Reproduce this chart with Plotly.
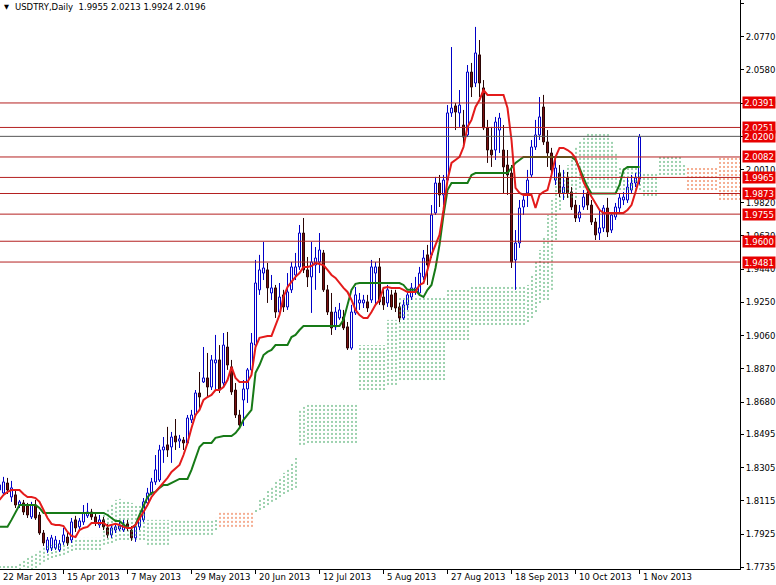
import plotly.graph_objects as go

# ---------------- data ----------------
symbol = "USDTRY,Daily"

date_labels = ["22 Mar 2013", "15 Apr 2013", "7 May 2013", "29 May 2013", "20 Jun 2013",
               "12 Jul 2013", "5 Aug 2013", "27 Aug 2013", "18 Sep 2013", "10 Oct 2013", "1 Nov 2013"]
date_label_bars = [0, 16, 32, 48, 64, 80, 96, 112, 128, 144, 160]

opens = [1.8177, 1.8160, 1.8217, 1.8137, 1.8149, 1.8091, 1.8103, 1.8086, 1.8023, 1.8091,
         1.8034, 1.7931, 1.7834, 1.7845, 1.7845, 1.7834, 1.7880, 1.7908, 1.7891, 1.8006,
         1.7966, 1.7994, 1.8029, 1.8051, 1.8023, 1.7977, 1.8006, 1.7960, 1.7920, 1.7948,
         1.7954, 1.7948, 1.7983, 1.7948, 1.7903, 1.7966, 1.8006, 1.8103, 1.8160, 1.8223,
         1.8234, 1.8406, 1.8435, 1.8423, 1.8486, 1.8457, 1.8463, 1.8446, 1.8578, 1.8606,
         1.8732, 1.8795, 1.8818, 1.8766, 1.8904, 1.8921, 1.8789, 1.8995, 1.8881, 1.8749,
         1.8606, 1.8692, 1.8755, 1.8864, 1.9006, 1.9322, 1.9418, 1.9436, 1.9304, 1.9333,
         1.9195, 1.9293, 1.9224, 1.9322, 1.9407, 1.9453, 1.9647, 1.9436, 1.9396, 1.9464,
         1.9481, 1.9533, 1.9322, 1.9195, 1.9110, 1.9161, 1.9167, 1.9110, 1.8989, 1.9190,
         1.9247, 1.9247, 1.9253, 1.9264, 1.9418, 1.9453, 1.9281, 1.9247, 1.9293, 1.9304,
         1.9224, 1.9161, 1.9236, 1.9281, 1.9310, 1.9304, 1.9396, 1.9522, 1.9522, 1.9762,
         1.9933, 1.9865, 1.9950, 2.0334, 2.0374, 2.0334, 2.0265, 2.0208, 2.0568, 2.0505,
         2.0666, 2.0477, 2.0248, 2.0122, 2.0122, 2.0236, 2.0122, 2.0036, 1.9990, 1.9493,
         1.9590, 1.9796, 1.9876, 1.9979, 2.0139, 2.0208, 2.0368, 2.0168, 2.0105, 1.9950,
         1.9990, 1.9876, 1.9962, 1.9882, 1.9807, 1.9733, 1.9796, 1.9876, 1.9807, 1.9710,
         1.9647, 1.9676, 1.9790, 1.9664, 1.9739, 1.9790, 1.9836, 1.9836, 1.9893, 1.9933,
         1.9955]

highs = [1.8234, 1.8252, 1.8246, 1.8229, 1.8177, 1.8120, 1.8120, 1.8103, 1.8109, 1.8120,
         1.8051, 1.7948, 1.7908, 1.7920, 1.7914, 1.7891, 1.7960, 1.7931, 1.8017, 1.8029,
         1.8017, 1.8091, 1.8103, 1.8069, 1.8046, 1.8034, 1.8023, 1.7983, 1.7977, 1.7983,
         1.7994, 1.8006, 1.8006, 1.7971, 1.7988, 1.8034, 1.8131, 1.8189, 1.8246, 1.8377,
         1.8435, 1.8480, 1.8538, 1.8509, 1.8583, 1.8492, 1.8480, 1.8606, 1.8635, 1.8749,
         1.8852, 1.8995, 1.8961, 1.8949, 1.9064, 1.9006, 1.9075, 1.9081, 1.8921, 1.8789,
         1.8635, 1.8806, 1.8875, 1.9075, 1.9493, 1.9522, 1.9596, 1.9476, 1.9407, 1.9350,
         1.9361, 1.9322, 1.9418, 1.9481, 1.9533, 1.9693, 1.9733, 1.9510, 1.9596, 1.9567,
         1.9647, 1.9550, 1.9350, 1.9304, 1.9224, 1.9247, 1.9207, 1.9138, 1.9236, 1.9338,
         1.9304, 1.9293, 1.9293, 1.9493, 1.9481, 1.9504, 1.9322, 1.9350, 1.9322, 1.9322,
         1.9247, 1.9264, 1.9310, 1.9361, 1.9396, 1.9453, 1.9550, 1.9579, 1.9807, 1.9968,
         1.9979, 1.9979, 2.0379, 2.0711, 2.0391, 2.0465, 2.0351, 2.0608, 2.0620, 2.0826,
         2.0751, 2.0522, 2.0294, 2.0254, 2.0311, 2.0334, 2.0265, 2.0122, 2.0036, 1.9664,
         1.9836, 1.9865, 2.0008, 2.0179, 2.0294, 2.0425, 2.0437, 2.0236, 2.0134, 2.0065,
         2.0036, 2.0008, 1.9996, 1.9910, 1.9836, 1.9807, 1.9893, 1.9893, 1.9836, 1.9733,
         1.9779, 1.9807, 1.9848, 1.9767, 1.9819, 1.9876, 1.9882, 1.9962, 1.9979, 1.9990,
         2.0213]

lows = [1.8137, 1.8149, 1.8154, 1.8109, 1.8074, 1.8074, 1.8034, 1.8017, 1.8011, 1.8006,
        1.7920, 1.7857, 1.7817, 1.7828, 1.7834, 1.7823, 1.7863, 1.7857, 1.7874, 1.7937,
        1.7948, 1.7977, 1.8017, 1.8006, 1.7971, 1.7960, 1.7948, 1.7903, 1.7903, 1.7931,
        1.7943, 1.7937, 1.7943, 1.7886, 1.7880, 1.7948, 1.7994, 1.8091, 1.8149, 1.8206,
        1.8223, 1.8332, 1.8366, 1.8332, 1.8406, 1.8417, 1.8406, 1.8435, 1.8560, 1.8595,
        1.8635, 1.8789, 1.8709, 1.8749, 1.8749, 1.8732, 1.8772, 1.8864, 1.8721, 1.8589,
        1.8532, 1.8543, 1.8675, 1.8847, 1.8995, 1.9293, 1.9378, 1.9247, 1.9264, 1.9161,
        1.9172, 1.9195, 1.9207, 1.9304, 1.9378, 1.9436, 1.9418, 1.9338, 1.9190, 1.9322,
        1.9418, 1.9310, 1.9178, 1.9064, 1.9092, 1.9150, 1.9092, 1.8978, 1.8978, 1.9178,
        1.9207, 1.9218, 1.9195, 1.9247, 1.9236, 1.9236, 1.9207, 1.9224, 1.9207, 1.9195,
        1.9138, 1.9150, 1.9207, 1.9264, 1.9293, 1.9287, 1.9378, 1.9350, 1.9504, 1.9750,
        1.9796, 1.9807, 1.9933, 2.0311, 2.0236, 2.0254, 2.0139, 2.0196, 2.0425, 2.0482,
        2.0425, 2.0236, 2.0048, 2.0025, 2.0065, 2.0105, 1.9876, 1.9865, 1.9447, 1.9322,
        1.9562, 1.9750, 1.9796, 1.9962, 2.0122, 2.0179, 2.0151, 2.0025, 1.9979, 1.9922,
        1.9853, 1.9836, 1.9848, 1.9779, 1.9710, 1.9710, 1.9779, 1.9779, 1.9693, 1.9607,
        1.9607, 1.9653, 1.9624, 1.9647, 1.9722, 1.9767, 1.9807, 1.9819, 1.9876, 1.9910,
        1.9924]

closes = [1.8206, 1.8223, 1.8177, 1.8189, 1.8091, 1.8109, 1.8051, 1.8034, 1.8091, 1.8017,
          1.7931, 1.7874, 1.7891, 1.7903, 1.7891, 1.7869, 1.7920, 1.7874, 1.7994, 1.7960,
          1.8000, 1.8046, 1.8051, 1.8023, 1.7988, 1.8006, 1.7966, 1.7920, 1.7960, 1.7966,
          1.7971, 1.7977, 1.7960, 1.7903, 1.7966, 1.8017, 1.8109, 1.8160, 1.8223, 1.8292,
          1.8406, 1.8423, 1.8406, 1.8480, 1.8452, 1.8469, 1.8446, 1.8589, 1.8606, 1.8732,
          1.8709, 1.8818, 1.8766, 1.8921, 1.8921, 1.8749, 1.9006, 1.8892, 1.8738, 1.8606,
          1.8549, 1.8755, 1.8864, 1.9018, 1.9361, 1.9436, 1.9447, 1.9333, 1.9333, 1.9195,
          1.9281, 1.9224, 1.9310, 1.9453, 1.9453, 1.9647, 1.9436, 1.9396, 1.9481, 1.9504,
          1.9550, 1.9322, 1.9195, 1.9104, 1.9195, 1.9207, 1.9104, 1.8989, 1.9195, 1.9293,
          1.9264, 1.9264, 1.9218, 1.9453, 1.9453, 1.9253, 1.9236, 1.9322, 1.9224, 1.9218,
          1.9161, 1.9236, 1.9293, 1.9333, 1.9333, 1.9418, 1.9504, 1.9464, 1.9750, 1.9933,
          1.9865, 1.9950, 2.0334, 2.0362, 2.0339, 2.0379, 2.0196, 2.0568, 2.0482, 2.0677,
          2.0505, 2.0248, 2.0122, 2.0094, 2.0282, 2.0305, 2.0025, 1.9979, 1.9481, 1.9590,
          1.9790, 1.9836, 1.9950, 2.0139, 2.0208, 2.0311, 2.0168, 2.0105, 2.0008, 2.0019,
          1.9876, 1.9910, 1.9876, 1.9796, 1.9733, 1.9767, 1.9853, 1.9807, 1.9710, 1.9636,
          1.9676, 1.9790, 1.9653, 1.9750, 1.9796, 1.9848, 1.9853, 1.9910, 1.9933, 1.9962,
          2.0196]

tenkan = [1.8120, 1.8149, 1.8166, 1.8177, 1.8177, 1.8177, 1.8154, 1.8137, 1.8137, 1.8131,
          1.8109, 1.8063, 1.8017, 1.7983, 1.7977, 1.7977, 1.7971, 1.7937, 1.7914, 1.7908,
          1.7948, 1.7960, 1.7966, 1.7988, 1.7988, 1.7988, 1.7988, 1.7971, 1.7977, 1.7983,
          1.7977, 1.7966, 1.7960, 1.7960, 1.7977, 1.8011, 1.8051, 1.8091, 1.8137, 1.8166,
          1.8194, 1.8217, 1.8246, 1.8280, 1.8303, 1.8320, 1.8377, 1.8446, 1.8532, 1.8606,
          1.8635, 1.8692, 1.8709, 1.8721, 1.8749, 1.8749, 1.8766, 1.8806, 1.8881, 1.8818,
          1.8795, 1.8795, 1.8795, 1.8835, 1.8995, 1.9047, 1.9052, 1.9058, 1.9058, 1.9121,
          1.9178, 1.9281, 1.9338, 1.9367, 1.9396, 1.9418, 1.9453, 1.9453, 1.9458, 1.9476,
          1.9470, 1.9464, 1.9436, 1.9407, 1.9390, 1.9361, 1.9333, 1.9310, 1.9264, 1.9207,
          1.9178, 1.9161, 1.9161, 1.9195, 1.9236, 1.9264, 1.9333, 1.9338, 1.9333, 1.9333,
          1.9333, 1.9322, 1.9310, 1.9310, 1.9310, 1.9350, 1.9361, 1.9436, 1.9522, 1.9579,
          1.9636, 1.9779, 1.9950, 2.0048, 2.0065, 2.0082, 2.0139, 2.0254, 2.0294, 2.0368,
          2.0408, 2.0465, 2.0437, 2.0437, 2.0437, 2.0437, 2.0437, 2.0362, 2.0179, 1.9905,
          1.9876, 1.9865, 1.9865, 1.9865, 1.9790, 1.9865, 1.9882, 1.9893, 1.9979, 2.0082,
          2.0134, 2.0134, 2.0122, 2.0105, 2.0076, 2.0008, 1.9939, 1.9893, 1.9853, 1.9819,
          1.9779, 1.9762, 1.9762, 1.9762, 1.9762, 1.9762, 1.9762, 1.9779, 1.9807, 1.9882,
          1.9962]

kijun = [1.7966, 1.7966, 1.7966, 1.8006, 1.8051, 1.8091, 1.8091, 1.8091, 1.8091, 1.8091,
         1.8074, 1.8046, 1.8046, 1.8046, 1.8046, 1.8046, 1.8046, 1.8046, 1.8046, 1.8046,
         1.8046, 1.8046, 1.8046, 1.8046, 1.8046, 1.8046, 1.8046, 1.8034, 1.8017, 1.8000,
         1.8000, 1.7977, 1.7960, 1.7960, 1.7977, 1.8034, 1.8091, 1.8137, 1.8160, 1.8166,
         1.8189, 1.8206, 1.8206, 1.8217, 1.8229, 1.8240, 1.8240, 1.8240, 1.8292, 1.8360,
         1.8423, 1.8446, 1.8446, 1.8446, 1.8475, 1.8480, 1.8486, 1.8486, 1.8486, 1.8503,
         1.8532, 1.8578, 1.8606, 1.8635, 1.8847, 1.8892, 1.8949, 1.8967, 1.8978, 1.9006,
         1.9006, 1.9006, 1.9006, 1.9052, 1.9064, 1.9092, 1.9115, 1.9115, 1.9115, 1.9115,
         1.9115, 1.9115, 1.9115, 1.9115, 1.9115, 1.9115, 1.9150, 1.9236, 1.9322, 1.9356,
         1.9361, 1.9361, 1.9361, 1.9361, 1.9361, 1.9361, 1.9361, 1.9361, 1.9361, 1.9361,
         1.9361, 1.9350, 1.9322, 1.9322, 1.9322, 1.9293, 1.9281, 1.9322, 1.9350, 1.9447,
         1.9579, 1.9750, 1.9893, 1.9933, 1.9933, 1.9933, 1.9933, 1.9933, 1.9979, 1.9990,
         1.9990, 1.9990, 1.9990, 1.9990, 1.9990, 1.9990, 1.9990, 1.9990, 2.0019, 2.0048,
         2.0065, 2.0082, 2.0082, 2.0082, 2.0082, 2.0082, 2.0082, 2.0082, 2.0082, 2.0082,
         2.0082, 2.0082, 2.0082, 2.0082, 2.0065, 2.0019, 1.9962, 1.9910, 1.9873, 1.9873,
         1.9873, 1.9873, 1.9873, 1.9873, 1.9873, 1.9922, 2.0008, 2.0025, 2.0025, 2.0025,
         2.0025]

# Senkou spans (the kumo), shifted 26 bars ahead of price
senkou_a = [1.7742, 1.7742, 1.7742, 1.7742, 1.7742, 1.7760, 1.7777, 1.7794, 1.7811, 1.7823,
            1.7840, 1.7851, 1.7857, 1.7863, 1.7869, 1.7874, 1.7880, 1.7886, 1.7891, 1.7903,
            1.7903, 1.7903, 1.7903, 1.7903, 1.7903, 1.7903, 1.8051, 1.8074, 1.8097, 1.8120,
            1.8126, 1.8120, 1.8109, 1.8103, 1.8097, 1.8091, 1.8063, 1.8006, 1.8006, 1.8006,
            1.8006, 1.8006, 1.8006, 1.8000, 1.8000, 1.8000, 1.8000, 1.8000, 1.8000, 1.8000,
            1.8000, 1.8000, 1.8000, 1.8000, 1.8017, 1.7966, 1.7966, 1.7966, 1.7966, 1.7966,
            1.7966, 1.7966, 1.7966, 1.7966, 1.8063, 1.8120, 1.8137, 1.8177, 1.8200, 1.8223,
            1.8252, 1.8275, 1.8303, 1.8332, 1.8360, 1.8635, 1.8652, 1.8675, 1.8675, 1.8675,
            1.8675, 1.8675, 1.8675, 1.8675, 1.8675, 1.8675, 1.8675, 1.8675, 1.8675, 1.8675,
            1.9006, 1.9006, 1.9006, 1.9006, 1.9006, 1.9006, 1.9006, 1.9150, 1.9150, 1.9150,
            1.9281, 1.9281, 1.9281, 1.9281, 1.9281, 1.9281, 1.9281, 1.9281, 1.9281, 1.9281,
            1.9281, 1.9281, 1.9322, 1.9322, 1.9322, 1.9322, 1.9322, 1.9322, 1.9350, 1.9350,
            1.9350, 1.9350, 1.9350, 1.9350, 1.9350, 1.9350, 1.9350, 1.9350, 1.9350, 1.9350,
            1.9350, 1.9350, 1.9350, 1.9407, 1.9481, 1.9550, 1.9619, 1.9750, 1.9836, 1.9962,
            1.9996, 2.0008, 2.0036, 2.0093, 2.0134, 2.0179, 2.0196, 2.0219, 2.0213, 2.0213,
            2.0213, 2.0213, 2.0213, 2.0179, 2.0111, 2.0019, 2.0019, 2.0019, 2.0019, 2.0019,
            1.9996, 1.9985, 1.9985, 1.9985, 1.9985, 2.0093, 2.0093, 2.0093, 2.0093, 2.0093,
            2.0093, 2.0036, 1.9893, 1.9893, 1.9893, 1.9893, 1.9893, 1.9893, 1.9893, 1.9893,
            1.9836, 1.9836, 1.9836, 1.9836, 1.9836, 1.9836]

senkou_b = [1.7662, 1.7662, 1.7662, 1.7662, 1.7662, 1.7674, 1.7691, 1.7708, 1.7720, 1.7731,
            1.7749, 1.7766, 1.7777, 1.7788, 1.7794, 1.7800, 1.7806, 1.7817, 1.7828, 1.7834,
            1.7834, 1.7834, 1.7834, 1.7834, 1.7834, 1.7834, 1.7863, 1.7869, 1.7874, 1.7886,
            1.7891, 1.7891, 1.7891, 1.7891, 1.7891, 1.7891, 1.7891, 1.7863, 1.7863, 1.7863,
            1.7863, 1.7863, 1.7863, 1.7920, 1.7920, 1.7920, 1.7920, 1.7920, 1.7920, 1.7920,
            1.7920, 1.7920, 1.7920, 1.7920, 1.7948, 1.8046, 1.8046, 1.8046, 1.8046, 1.8046,
            1.8046, 1.8046, 1.8046, 1.8046, 1.8051, 1.8063, 1.8074, 1.8091, 1.8109, 1.8120,
            1.8137, 1.8154, 1.8166, 1.8177, 1.8189, 1.8435, 1.8435, 1.8446, 1.8446, 1.8446,
            1.8446, 1.8446, 1.8446, 1.8446, 1.8446, 1.8446, 1.8446, 1.8446, 1.8446, 1.8446,
            1.8749, 1.8749, 1.8749, 1.8749, 1.8749, 1.8749, 1.8749, 1.8778, 1.8778, 1.8778,
            1.8806, 1.8806, 1.8806, 1.8806, 1.8806, 1.8806, 1.8806, 1.8806, 1.8806, 1.8806,
            1.8806, 1.8806, 1.9035, 1.9035, 1.9035, 1.9035, 1.9035, 1.9035, 1.9121, 1.9121,
            1.9121, 1.9121, 1.9121, 1.9121, 1.9121, 1.9121, 1.9121, 1.9121, 1.9121, 1.9121,
            1.9121, 1.9121, 1.9138, 1.9161, 1.9195, 1.9247, 1.9264, 1.9264, 1.9322, 1.9607,
            1.9779, 1.9848, 1.9848, 1.9848, 1.9848, 1.9905, 1.9905, 1.9905, 1.9905, 1.9905,
            1.9905, 1.9905, 1.9905, 1.9905, 1.9905, 1.9893, 1.9893, 1.9893, 1.9893, 1.9893,
            1.9893, 1.9859, 1.9859, 1.9859, 1.9859, 1.9979, 1.9979, 1.9979, 1.9979, 1.9979,
            1.9979, 1.9979, 2.0019, 2.0019, 2.0019, 2.0019, 2.0019, 2.0019, 2.0019, 2.0019,
            2.0082, 2.0082, 2.0082, 2.0082, 2.0082, 2.0082]

level_values = [2.0391, 2.0251, 2.0200, 2.0082, 1.9965, 1.9873, 1.9755, 1.9600, 1.9481]
bid_level = 2.0200
ytick_values = [2.0960, 2.0770, 2.0580, 2.0390, 2.0200, 2.0010, 1.9820, 1.9630, 1.9440,
                1.9250, 1.9060, 1.8870, 1.8680, 1.8495, 1.8305, 1.8115, 1.7925, 1.7735]

# ---------------- figure ----------------
FONT = "DejaVu Sans"
BULL_LINE, BULL_FILL = "#0000C8", "#FFFFFF"
BEAR_LINE, BEAR_FILL = "#2A0505", "#7A1010"
KUMO_UP, KUMO_DOWN = "rgb(60,165,95)", "rgb(235,95,40)"
KUMO_SHIFT = 0.125          # half-pixel nudge so the hatch reads as soft dotted columns
bars = list(range(len(opens)))
x_lo, x_hi = 0.125, 185.125
y_lo, y_hi = 1.7725, 2.0980

fig = go.Figure()

# kumo drawn as dotted vertical hatching, one column per bar
gx, gy, ox, oy = [], [], [], []
for i, (a, b) in enumerate(zip(senkou_a, senkou_b)):
    xi = i + KUMO_SHIFT
    if a >= b:
        gx += [xi, xi, None]; gy += [b, a, None]
    else:
        ox += [xi, xi, None]; oy += [a, b, None]
fig.add_trace(go.Scatter(x=gx, y=gy, mode="lines", hoverinfo="skip", showlegend=False,
                         line=dict(color=KUMO_UP, width=1, dash="2px,2px")))
fig.add_trace(go.Scatter(x=ox, y=oy, mode="lines", hoverinfo="skip", showlegend=False,
                         line=dict(color=KUMO_DOWN, width=1, dash="2px,2px")))

# candles: wicks (upper and lower shadow segments) + bodies (bars with a base)
for is_bull, lc, fc in ((True, BULL_LINE, BULL_FILL), (False, BEAR_LINE, BEAR_FILL)):
    idx = [i for i in bars if (closes[i] >= opens[i]) == is_bull]
    wx, wy = [], []
    for i in idx:
        top, bot = max(opens[i], closes[i]), min(opens[i], closes[i])
        wx += [i, i, None, i, i, None]
        wy += [highs[i], top, None, bot, lows[i], None]
    fig.add_trace(go.Scatter(x=wx, y=wy, mode="lines", hoverinfo="skip", showlegend=False,
                             line=dict(color=lc, width=1)))
    fig.add_trace(go.Bar(
        x=idx,
        base=[min(opens[i], closes[i]) for i in idx],
        y=[max(abs(closes[i] - opens[i]), 0.0003) for i in idx],
        width=0.5, hoverinfo="skip", showlegend=False,
        marker=dict(color=fc, line=dict(color=lc, width=1))))

fig.add_trace(go.Scatter(x=bars, y=kijun, mode="lines", hoverinfo="skip", showlegend=False,
                         line=dict(color="#177A17", width=2)))
fig.add_trace(go.Scatter(x=bars, y=tenkan, mode="lines", hoverinfo="skip", showlegend=False,
                         line=dict(color="#E41B1B", width=2)))

shapes = []
annotations = []
for v in level_values:
    col = "#555555" if v == bid_level else "#B42020"
    shapes.append(dict(type="line", xref="paper", x0=0, x1=1, yref="y", y0=v, y1=v,
                       line=dict(color=col, width=1), layer="above"))
    annotations.append(dict(x=1, xref="paper", y=v, yref="y", xanchor="left", yanchor="middle",
                            xshift=2, text=f"{v:.4f}", showarrow=False, bgcolor="#E80000",
                            width=30, height=9, borderpad=1, align="center",
                            font=dict(family=FONT, size=8.5, color="#FFFFFF")))

for b, lab in zip(date_label_bars, date_labels):
    annotations.append(dict(x=max(b, x_lo + 0.1), xref="x", y=0, yref="paper", xanchor="left",
                            yanchor="top", xshift=1, yshift=-1, text=lab, showarrow=False,
                            font=dict(family=FONT, size=8.5, color="#000000")))

annotations.append(dict(x=0, xref="paper", y=1, yref="paper", xanchor="left", yanchor="top",
                        xshift=2, yshift=-1, text="\u25BC", showarrow=False,
                        font=dict(family=FONT, size=6.5, color="#000000")))
header = f"{symbol}\u00a0\u00a0{opens[-1]:.4f} {highs[-1]:.4f} {lows[-1]:.4f} {closes[-1]:.4f}"
annotations.append(dict(x=0, xref="paper", y=1, yref="paper", xanchor="left", yanchor="top",
                        xshift=13, yshift=0, text=header, showarrow=False,
                        font=dict(family=FONT, size=8.5, color="#000000")))

fig.update_layout(
    width=776, height=585,
    margin=dict(l=0, r=36, t=0, b=16, pad=0),
    paper_bgcolor="#FFFFFF", plot_bgcolor="#FFFFFF",
    showlegend=False, hovermode=False, barmode="overlay",
    shapes=shapes, annotations=annotations,
    xaxis=dict(range=[x_lo, x_hi], showgrid=False, zeroline=False, showline=True,
               linecolor="#000000", linewidth=1, ticks="outside", ticklen=4, tickwidth=1,
               tickcolor="#000000", tickvals=date_label_bars, showticklabels=False,
               fixedrange=True),
    yaxis=dict(range=[y_lo, y_hi], side="right", showgrid=False, zeroline=False, showline=True,
               linecolor="#000000", linewidth=1, ticks="outside", ticklen=3, tickwidth=1,
               tickcolor="#000000", tickvals=ytick_values,
               ticktext=[f"{v:.4f}" for v in ytick_values],
               tickfont=dict(family=FONT, size=8.5, color="#000000"), fixedrange=True),
)

fig.write_html("out.html", config={"displayModeBar": False},
               post_script="document.body.style.margin='0';document.body.style.overflow='hidden';")
